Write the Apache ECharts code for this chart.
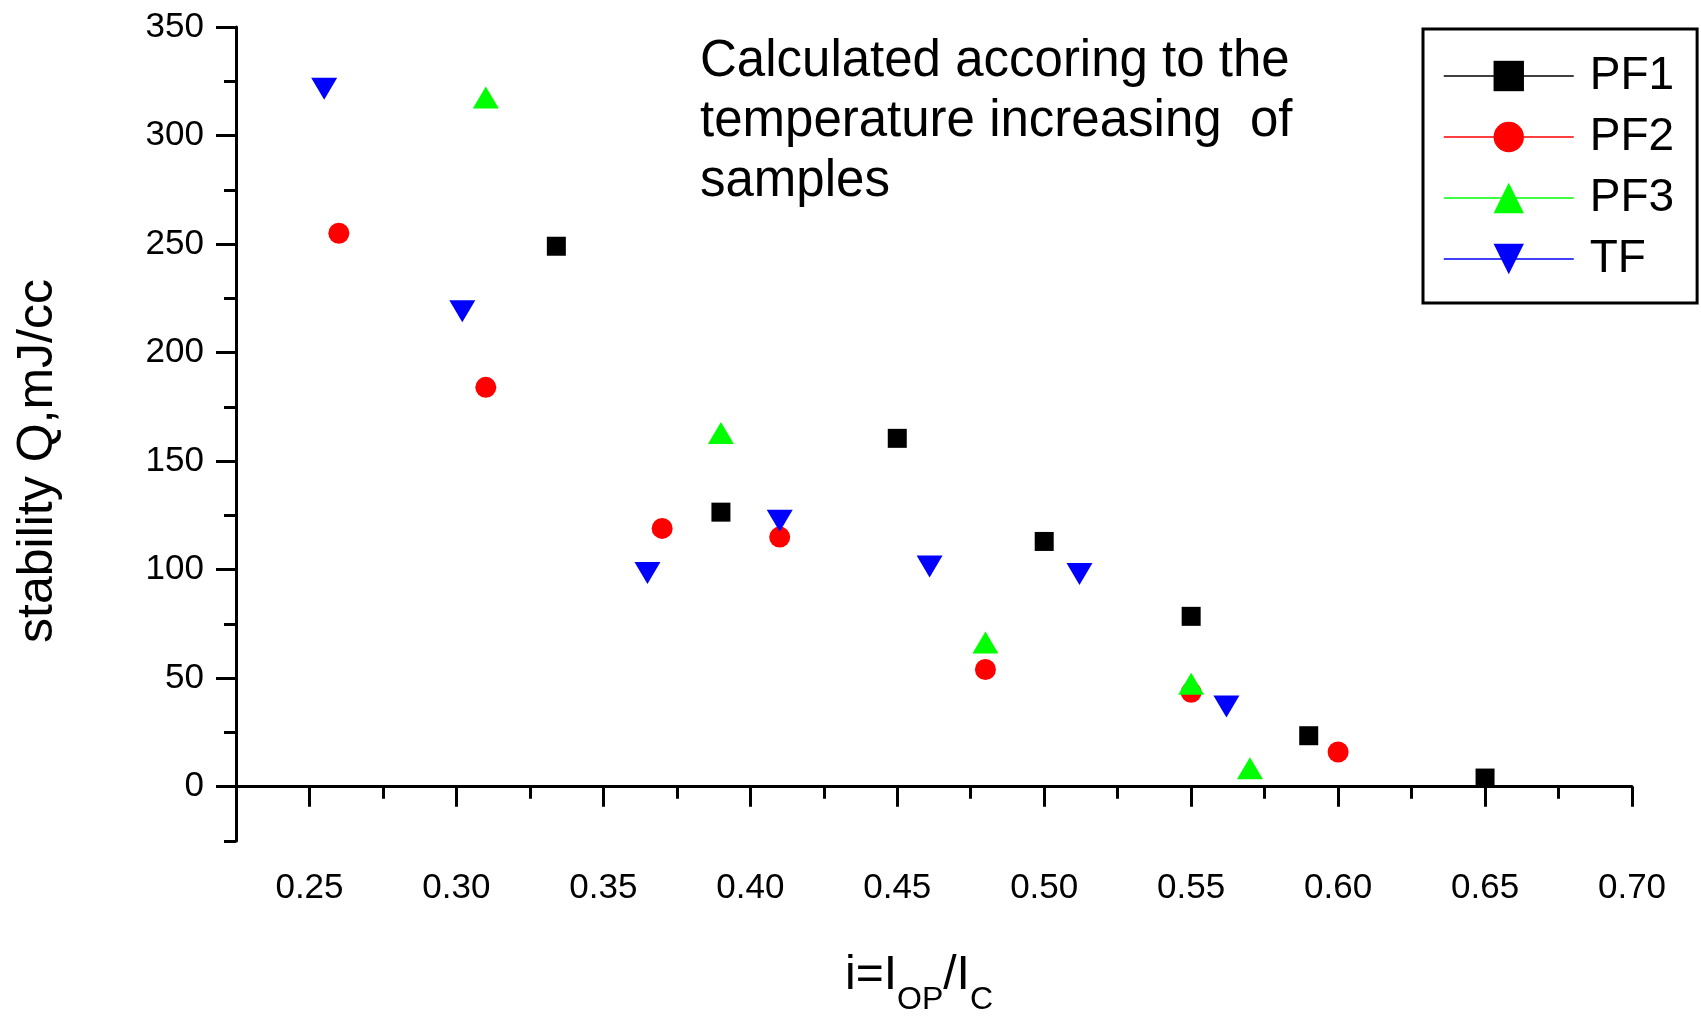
<!DOCTYPE html>
<html>
<head>
<meta charset="utf-8">
<script src="https://cdn.jsdelivr.net/npm/echarts@6/dist/echarts.min.js"></script>
<style>
html,body{margin:0;padding:0;background:#fff;}
#chart{width:1701px;height:1016px;}
</style>
</head>
<body>
<div id="chart"></div>
<script>
// ---- data ----
const seriesNames = ['PF1', 'PF2', 'PF3', 'TF'];
const xPF1 = [0.334, 0.39, 0.45, 0.50, 0.55, 0.59, 0.65];
const yPF1 = [249, 126.5, 160.5, 113, 78.5, 23.5, 4];
const xPF2 = [0.26, 0.31, 0.37, 0.41, 0.48, 0.55, 0.60];
const yPF2 = [255, 184, 119, 115, 54, 43.5, 16];
const xPF3 = [0.31, 0.39, 0.48, 0.55, 0.57];
const yPF3 = [317.5, 163, 66.5, 47.5, 8.5];
const xTF = [0.255, 0.302, 0.365, 0.41, 0.461, 0.512, 0.562];
const yTF = [321.5, 219, 98.5, 122.5, 101.5, 98, 37];
const xTickLabels = [0.25, 0.30, 0.35, 0.40, 0.45, 0.50, 0.55, 0.60, 0.65, 0.70];
const yTickLabels = [0, 50, 100, 150, 200, 250, 300, 350];
const noteText = 'Calculated accoring to the\ntemperature increasing  of\nsamples';

const pairs = (xs, ys) => xs.map((x, i) => [x, ys[i]]);
const FONT = '"Liberation Sans", Arial, sans-serif';

const chart = echarts.init(document.getElementById('chart'), null, {renderer: 'canvas'});

const baseSeries = (name, data, symbol, size, color, rotate) => ({
  name: name,
  type: 'line',
  xAxisIndex: 0,
  yAxisIndex: 0,
  data: data,
  symbol: symbol,
  symbolSize: size,
  symbolRotate: rotate || 0,
  showSymbol: true,
  showAllSymbol: true,
  itemStyle: {color: color},
  lineStyle: {opacity: 0, width: 0, color: color},
  emphasis: {disabled: true},
  z: 3
});

chart.setOption({
  animation: false,
  backgroundColor: '#ffffff',
  textStyle: {fontFamily: FONT},
  grid: {left: 236, right: 69, top: 27, bottom: 175, containLabel: false, outerBoundsMode: 'none'},
  xAxis: [
    {
      type: 'value', min: 0.225, max: 0.70, interval: 0.025,
      position: 'bottom',
      axisLine: {show: true, lineStyle: {color: '#000', width: 3}},
      axisTick: {show: true, length: 12, lineStyle: {color: '#000', width: 3}},
      axisLabel: {show: false},
      splitLine: {show: false},
      name: '{m|i=I}{s|OP}{m|/I}{s|C}',
      nameLocation: 'middle',
      nameGap: 111,
      nameTextStyle: {
        padding: [0, 30, 0, 0],
        rich: {
          m: {fontSize: 48, fontFamily: FONT, color: '#000', lineHeight: 48, verticalAlign: 'top'},
          s: {fontSize: 32, fontFamily: FONT, color: '#000', verticalAlign: 'top', padding: [32, 0, 0, 0]}
        }
      }
    },
    {
      type: 'value', min: 0.225, max: 0.70,
      position: 'bottom',
      axisLine: {show: false},
      axisTick: {show: true, length: 20, customValues: xTickLabels, lineStyle: {color: '#000', width: 3}},
      axisLabel: {show: true, customValues: xTickLabels, margin: 30, fontSize: 35, color: '#000', fontFamily: FONT,
        formatter: v => v.toFixed(2)},
      splitLine: {show: false}
    }
  ],
  yAxis: [
    {
      type: 'value', min: -25, max: 350, interval: 25,
      position: 'left',
      axisLine: {show: true, lineStyle: {color: '#000', width: 3}},
      axisTick: {show: true, length: 12, lineStyle: {color: '#000', width: 3}},
      axisLabel: {show: false},
      splitLine: {show: false},
      name: 'stability Q,mJ/cc',
      nameLocation: 'middle',
      nameRotate: 90,
      nameGap: 173,
      nameTextStyle: {fontSize: 50, color: '#000', fontFamily: FONT, padding: [0, 54, 0, 0]}
    },
    {
      type: 'value', min: -25, max: 350,
      position: 'left',
      axisLine: {show: false},
      axisTick: {show: true, length: 20, customValues: yTickLabels, lineStyle: {color: '#000', width: 3}},
      axisLabel: {show: true, customValues: yTickLabels, margin: 32, fontSize: 35, color: '#000', fontFamily: FONT},
      splitLine: {show: false}
    }
  ],
  legend: {
    show: true,
    data: seriesNames,
    orient: 'vertical',
    left: 1423,
    top: 29,
    itemWidth: 130,
    itemHeight: 38,
    itemGap: 15,
    padding: [24, 23, 21, 20],
    borderColor: '#000',
    borderWidth: 3,
    selectedMode: false,
    lineStyle: {opacity: 1, width: 1.5},
    textStyle: {fontSize: 46, color: '#000', fontFamily: FONT, lineHeight: 46, padding: [0, 0, 0, 11]}
  },
  graphic: [
    {
      type: 'text',
      left: 700,
      top: 32,
      style: {text: noteText, fontSize: 51, lineHeight: 60, fill: '#000', fontFamily: FONT}
    }
  ],
  series: [
    baseSeries('PF1', pairs(xPF1, yPF1), 'rect', 19, '#000000'),
    baseSeries('PF2', pairs(xPF2, yPF2), 'circle', 21, '#ff0000'),
    baseSeries('PF3', pairs(xPF3, yPF3), 'triangle', [26, 22], '#00ff00'),
    baseSeries('TF', pairs(xTF, yTF), 'triangle', [26, 22], '#0000ff', 180)
  ]
});
</script>
</body>
</html>
